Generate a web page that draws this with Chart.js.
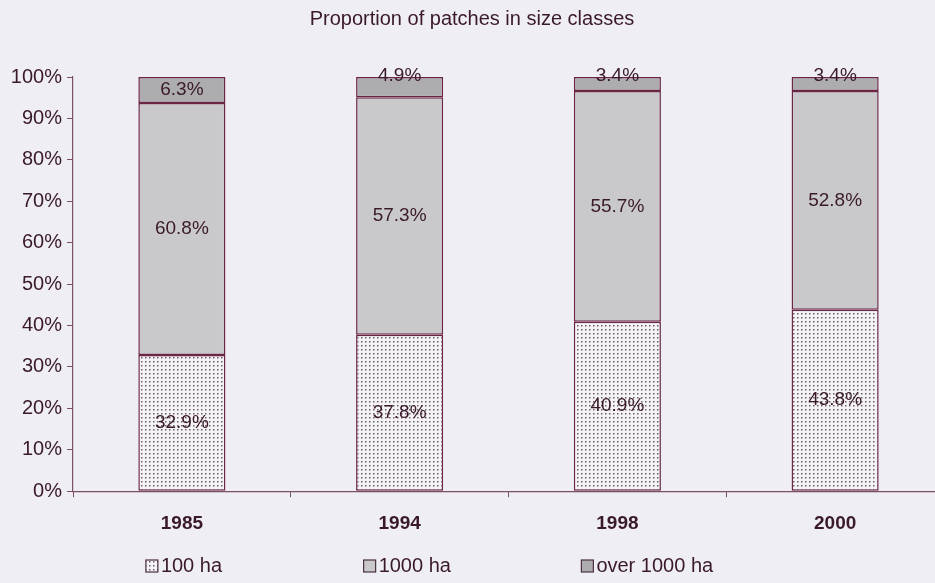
<!DOCTYPE html>
<html>
<head>
<meta charset="utf-8">
<script src="https://cdn.jsdelivr.net/npm/chart.js@4"></script>
<style>
  html, body { margin: 0; padding: 0; background: #efeef4; overflow: hidden; }
  #wrap { width: 935px; height: 583px; overflow: hidden; }
</style>
</head>
<body>
<!-- plot runs slightly past the right edge, as in the scanned original -->
<div id="wrap"><canvas id="chart" width="944" height="583"></canvas></div>
<script>
// Data
const years = ['1985', '1994', '1998', '2000'];
const seriesNames = ['100 ha', '1000 ha', 'over 1000 ha'];
const share100 = [32.9, 37.8, 40.9, 43.8];
const share1000 = [60.8, 57.3, 55.7, 52.8];
const shareOver1000 = [6.3, 4.9, 3.4, 3.4];

const textColor = '#3a1a2a';
const edgeColor = '#6b2644';
const axisColor = '#7a5062';

// Dotted fill for the smallest size class
function makeDotPattern() {
    const tile = document.createElement('canvas');
    tile.width = 4;
    tile.height = 4;
    const c = tile.getContext('2d');
    c.fillStyle = '#f4f3f6';
    c.fillRect(0, 0, 4, 4);
    c.fillStyle = '#6f5c68';
    c.fillRect(1, 1, 1.5, 1.5);
    return c.createPattern(tile, 'repeat');
}

const dotFill = makeDotPattern();
const fills = [dotFill, '#c9c9cc', '#adadb0'];

Chart.defaults.font.family = '"Liberation Sans", Arial, sans-serif';
Chart.defaults.color = textColor;

// Paint page background inside the canvas
const backgroundPlugin = {
    id: 'bg',
    beforeDraw(chart) {
        const ctx = chart.ctx;
        ctx.save();
        ctx.fillStyle = '#efeef4';
        ctx.fillRect(0, 0, chart.width, chart.height);
        ctx.restore();
    }
};

// Percentage labels inside each segment
const segmentLabels = {
    id: 'segmentLabels',
    afterDatasetsDraw(chart) {
        const ctx = chart.ctx;
        ctx.save();
        ctx.font = '19px "Liberation Sans", Arial, sans-serif';
        ctx.fillStyle = textColor;
        ctx.textAlign = 'center';
        ctx.textBaseline = 'middle';
        chart.data.datasets.forEach((ds, di) => {
            const meta = chart.getDatasetMeta(di);
            meta.data.forEach((bar, i) => {
                const v = ds.data[i];
                const props = bar.getProps(['x', 'y', 'base'], true);
                let y = (props.y + props.base) / 2;
                if (v < 5) y = props.y - 1;
                ctx.fillText(v.toFixed(1) + '%', props.x, y);
            });
        });
        ctx.restore();
    }
};

// Legend drawn under each category column
const columnLegend = {
    id: 'columnLegend',
    afterDraw(chart) {
        const ctx = chart.ctx;
        const xs = chart.scales.x;
        ctx.save();
        ctx.font = '20px "Liberation Sans", Arial, sans-serif';
        ctx.textBaseline = 'middle';
        ctx.textAlign = 'left';
        const y = 566;
        seriesNames.forEach((name, i) => {
            const x0 = xs.getPixelForValue(i) - 36;
            ctx.fillStyle = fills[i];
            ctx.fillRect(x0, y - 6, 12, 12);
            ctx.strokeStyle = '#4a3040';
            ctx.lineWidth = 1.2;
            ctx.strokeRect(x0, y - 6, 12, 12);
            ctx.fillStyle = textColor;
            ctx.fillText(name, x0 + 15, y);
        });
        ctx.restore();
    }
};

new Chart(document.getElementById('chart'), {
    type: 'bar',
    data: {
        labels: years,
        datasets: [share100, share1000, shareOver1000].map((vals, i) => ({
            label: seriesNames[i],
            data: vals,
            backgroundColor: fills[i],
            borderColor: edgeColor,
            borderWidth: 1.5,
            borderSkipped: false,
            barPercentage: 0.4,
            categoryPercentage: 1
        }))
    },
    options: {
        responsive: false,
        animation: false,
        layout: { padding: { top: 0, right: 0, bottom: 33, left: 0 } },
        plugins: {
            legend: { display: false },
            tooltip: { enabled: false },
            title: {
                display: true,
                text: 'Proportion of patches in size classes',
                color: textColor,
                font: { size: 20, weight: 'normal' },
                padding: { top: 7, bottom: 46 },
                // keep the title centred on the visible 935px page
                align: 'center'
            }
        },
        scales: {
            x: {
                stacked: true,
                grid: { display: true, drawOnChartArea: false, tickLength: 6, color: axisColor },
                border: { color: axisColor, width: 1.2 },
                ticks: { color: textColor, font: { size: 19, weight: 'bold' }, padding: 15 }
            },
            y: {
                stacked: true,
                min: 0,
                max: 100,
                afterFit(scale) { scale.width = 73; },
                grid: { display: true, drawOnChartArea: false, tickLength: 6, color: axisColor },
                border: { color: axisColor, width: 1.2 },
                ticks: {
                    stepSize: 10,
                    padding: 5,
                    color: textColor,
                    font: { size: 20 },
                    callback: v => v + '%'
                }
            }
        }
    },
    plugins: [backgroundPlugin, segmentLabels, columnLegend]
});
</script>
</body>
</html>
